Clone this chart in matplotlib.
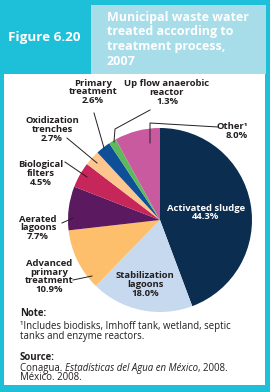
import matplotlib.pyplot as plt
from matplotlib.patches import Rectangle
from matplotlib.lines import Line2D

# Data: share of municipal waste water treated, by process (2007)
processes = ['Activated sludge', 'Stabilization lagoons', 'Advanced primary treatment',
             'Aerated lagoons', 'Biological filters', 'Oxidization trenches',
             'Primary treatment', 'Up flow anaerobic reactor', 'Other']
shares = [44.3, 18.0, 10.9, 7.7, 4.5, 2.7, 2.6, 1.3, 8.0]
colors = ['#0b2d50', '#c6d9ef', '#fdbf6b', '#5b1a5f', '#c7265b',
          '#fcc68e', '#0e4f97', '#5dba5b', '#c95a9f']

W, H = 270, 392
TXT = '#231f20'
FONT = 'Open Sans'


def fx(x):
    return x / W


def fy(y):
    return 1 - y / H


fig = plt.figure(figsize=(W / 100, H / 100), dpi=100)
fig.patch.set_facecolor('#1ebfd9')

# panels
fig.add_artist(Rectangle((fx(4), fy(385)), fx(261), 311 / H, transform=fig.transFigure,
                         facecolor='white', edgecolor='none', zorder=-2))
fig.add_artist(Rectangle((fx(91), fy(73.5)), fx(174.5), 68.5 / H, transform=fig.transFigure,
                         facecolor='#a7dce9', edgecolor='none', zorder=-2))

fig.text(fx(8), fy(37), 'Figure 6.20', color='white', fontsize=9.7, fontweight='bold',
         family=FONT, va='center', ha='left')
title = ['Municipal waste water', 'treated according to', 'treatment process,', '2007']
for i, line in enumerate(title):
    fig.text(fx(107), fy(17 + i * 14.7), line, color='white', fontsize=9.0, fontweight='bold',
             family=FONT, va='center', ha='left')

# pie
cx, cy, r = 160, 220, 92
ax = fig.add_axes([fx(cx - r), fy(cy + r), 2 * r / W, 2 * r / H])
ax.pie(shares, colors=colors, startangle=90, counterclock=False,
       wedgeprops=dict(linewidth=0))
ax.set_xlim(-1, 1)
ax.set_ylim(-1, 1)
ax.axis('off')

lab = dict(fontsize=6.8, fontweight='bold', family=FONT, color=TXT, ha='center', va='center',
           linespacing=0.98)

fig.text(fx(206), fy(212.5), 'Activated sludge\n44.3%', **dict(lab, color='white'))
fig.text(fx(145), fy(284.5), 'Stabilization\nlagoons\n18.0%', **lab)
fig.text(fx(49), fy(276.5), 'Advanced\nprimary\ntreatment\n10.9%', **lab)
fig.text(fx(38), fy(228), 'Aerated\nlagoons\n7.7%', **lab)
fig.text(fx(41), fy(173.5), 'Biological\nfilters\n4.5%', **lab)
fig.text(fx(52), fy(129.5), 'Oxidization\ntrenches\n2.7%', **lab)
fig.text(fx(93), fy(92), 'Primary\ntreatment\n2.6%', **lab)
fig.text(fx(167), fy(92.5), 'Up flow anaerobic\nreactor\n1.3%', **lab)
fig.text(fx(248), fy(131), 'Other\u00b9\n8.0%', **dict(lab, ha='right', multialignment='right'))

# leader lines (pixel coordinates)
leaders = [
    [(94, 113), (104, 148)],
    [(150, 110), (115, 129), (114, 142)],
    [(218, 127), (150, 123), (150, 143)],
    [(67, 138), (97, 163)],
    [(65, 162), (87, 177)],
    [(62, 223), (73, 218)],
    [(73, 280), (92, 276)],
]
for pts in leaders:
    xs = [fx(p[0]) for p in pts]
    ys = [fy(p[1]) for p in pts]
    fig.add_artist(Line2D(xs, ys, transform=fig.transFigure, color=TXT, linewidth=0.7))

# notes
note = dict(fontsize=6.9, family=FONT, color=TXT, ha='left', va='center')
fig.text(fx(20), fy(314), 'Note:', fontweight='bold', **note)
fig.text(fx(20), fy(327), '\u00b9Includes biodisks, Imhoff tank, wetland, septic', **note)
fig.text(fx(20), fy(337), 'tanks and enzyme reactors.', **note)
fig.text(fx(20), fy(357), 'Source:', fontweight='bold', **note)

# source line with italic title, placed piece by piece
renderer = fig.canvas.get_renderer()
x = 20
for part, style in [('Conagua. ', 'normal'), ('Estadísticas del Agua en México', 'italic'),
                    (', 2008.', 'normal')]:
    t = fig.text(fx(x), fy(368), part, style=style, **note)
    x += t.get_window_extent(renderer).width
fig.text(fx(20), fy(378), 'México. 2008.', **note)

fig.savefig('out.png', dpi=100)
